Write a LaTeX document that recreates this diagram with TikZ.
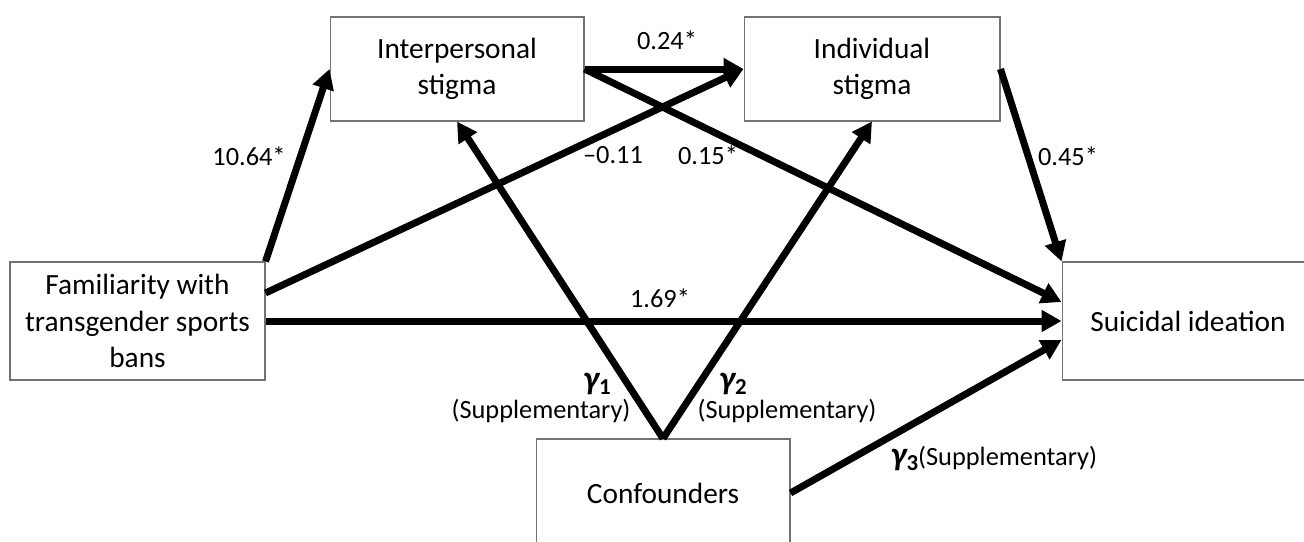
\documentclass[tikz,border=0pt]{standalone}
\usepackage{fontspec}
\setmainfont{Carlito}
\usetikzlibrary{arrows.meta, calc}

% bold italic gamma with a lowered index
\newcommand{\gam}[1]{{\fontsize{19}{19}\selectfont\bfseries\itshape γ}\raisebox{-0.4ex}{\bfseries\fontsize{13}{13}\selectfont #1}}

\begin{document}
\begin{tikzpicture}[x=0.02cm, y=-0.02cm,
    box/.style={draw=black!55, line width=0.6pt, minimum height=2.36cm,
      align=center, inner sep=2pt, font=\fontsize{16.7}{20.8}\selectfont},
    arr/.style={-{Triangle[length=0.4cm, width=0.42cm]}, line width=0.14cm},
    lbl/.style={font=\fontsize{15}{18}\selectfont, inner sep=0pt},
  ]
    \useasboundingbox (0,0) rectangle (1304,541);

    \node[box, minimum width=5.1cm] (fam) at (137.5, 321)
      {Familiarity with\\transgender sports\\bans};
    \node[box, minimum width=5.08cm, minimum height=2.08cm] (inter) at (457, 69)
      {Interpersonal\\stigma};
    \node[box, minimum width=5.12cm, minimum height=2.08cm] (indiv) at (872, 69)
      {Individual\\stigma};
    \node[box, minimum width=5.04cm] (suic) at (1188, 321) {Suicidal ideation};
    \node[box, minimum width=5.08cm, minimum height=2.16cm] (conf) at (663, 493)
      {Confounders};

    \draw[arr] (fam.north east) -- (inter.west);
    \draw[arr] ([yshift=0.56cm]fam.east) -- (indiv.west);
    \draw[arr] (fam.east) -- (suic.west);
    \draw[arr] (inter.east) -- (indiv.west);
    \draw[arr] (inter.east) -- ([yshift=0.38cm]suic.west);
    \draw[arr] (indiv.east) -- (suic.north west);
    \draw[arr] (conf.north) -- (inter.south);
    \draw[arr] (conf.north) -- (indiv.south);
    \draw[arr] (conf.east) -- ([yshift=-0.38cm]suic.west);

    \node[lbl] (l1) at (249, 156) {10.64*};
    \node[lbl] (l2) at (667, 40) {0.24*};
    \node[lbl] (l3) at (613, 155) {\char"2013 0.11};
    \node[lbl] (l4) at (708, 155) {0.15*};
    \node[lbl] (l5) at (1068, 156) {0.45*};
    \node[lbl] (l6) at (660, 298) {1.69*};
    \node[lbl] (g1) at (597, 384) {\gam{1}};
    \node[lbl] (s1) at (541, 411) {(Supplementary)};
    \node[lbl] (g2) at (733, 384) {\gam{2}};
    \node[lbl] (s2) at (787, 411) {(Supplementary)};
    \node[lbl] (g3) at (994, 458) {\gam{3}(Supplementary)};
  \end{tikzpicture}
\end{document}
